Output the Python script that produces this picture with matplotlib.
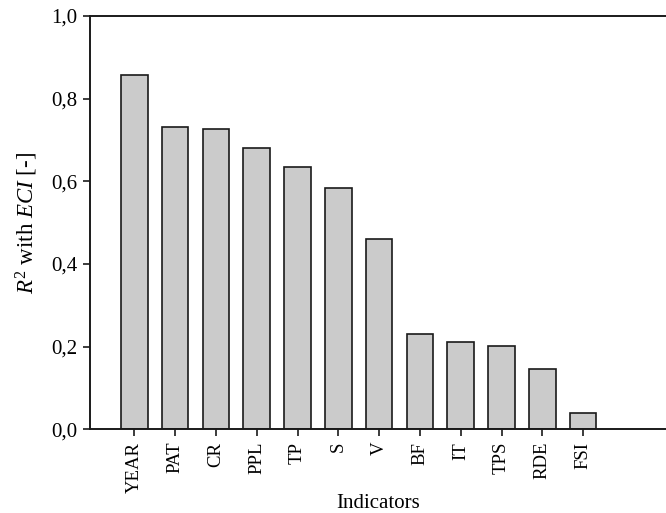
import matplotlib
matplotlib.use("Agg")
import matplotlib.pyplot as plt
from matplotlib.ticker import FuncFormatter, MultipleLocator

categories = ["YEAR", "PAT", "CR", "PPL", "TP", "S", "V", "BF", "IT", "TPS", "RDE", "FSI"]
r2_values = [0.857, 0.732, 0.726, 0.680, 0.635, 0.585, 0.460, 0.230, 0.211, 0.202, 0.147, 0.039]

plt.rcParams["font.family"] = ["Liberation Serif", "DejaVu Serif"]
plt.rcParams["mathtext.fontset"] = "custom"
plt.rcParams["mathtext.rm"] = "Liberation Serif"
plt.rcParams["mathtext.it"] = "Liberation Serif:italic"

fig = plt.figure(figsize=(6.66, 5.13), dpi=100)
ax = fig.add_axes([0.1351, 0.1632, 0.8649, 0.8056])

x = list(range(len(categories)))
ax.bar(x, r2_values, width=0.65, color="#cbcbcb", edgecolor="#1a1a1a", linewidth=1.2, zorder=2)

ax.set_xlim(-1.086, 13.03)
ax.set_ylim(0, 1.0)
ax.set_xticks(x)
ax.set_xticklabels(categories, rotation=90, fontsize=13.5)
ax.yaxis.set_major_locator(MultipleLocator(0.2))
ax.yaxis.set_major_formatter(FuncFormatter(lambda v, p: f"{v:.1f}".replace(".", ",")))
ax.tick_params(axis="y", labelsize=15, pad=4)
ax.tick_params(axis="x", pad=4)
ax.tick_params(direction="out", length=5, width=1.2, color="#1a1a1a")

for side in ["left", "bottom", "top"]:
    ax.spines[side].set_linewidth(1.4)
    ax.spines[side].set_color("#1a1a1a")
ax.spines["right"].set_visible(False)

ax.set_xlabel("Indicators", fontsize=15, labelpad=1)
ax.set_ylabel(r"$R^2$ with $ECI$ [-]", fontsize=16.5, labelpad=8)

fig.savefig("out.png", dpi=100)
